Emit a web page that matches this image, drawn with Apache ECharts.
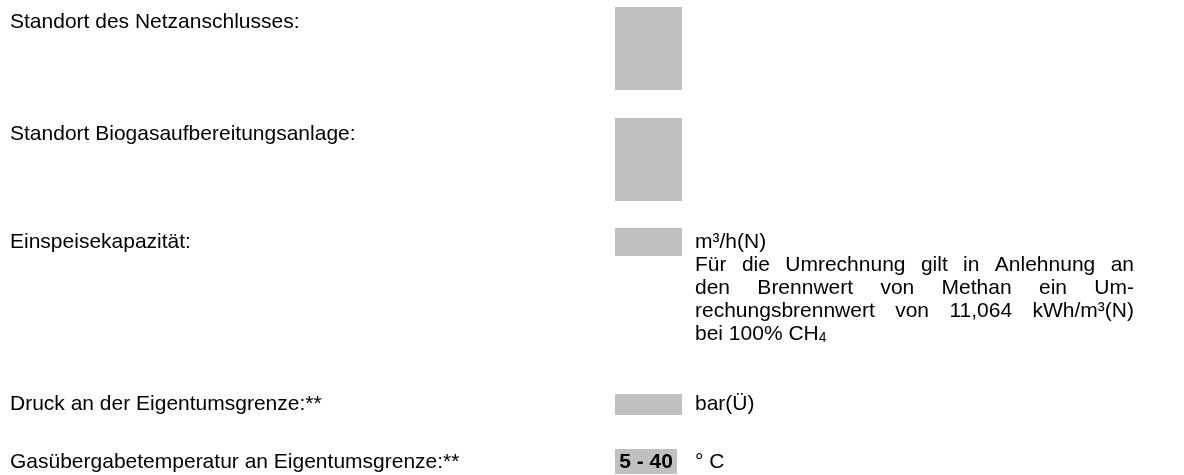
<!DOCTYPE html>
<html>
<head>
<meta charset="utf-8">
<script src="https://cdn.jsdelivr.net/npm/echarts@6/dist/echarts.min.js"></script>
<style>
html,body{margin:0;padding:0;background:#fff;}
#main{width:1184px;height:475px;}
</style>
</head>
<body>
<div id="main"></div>
<script>
// ---- content ----
const labels = [
  'Standort des Netzanschlusses:',
  'Standort Biogasaufbereitungsanlage:',
  'Einspeisekapazität:',
  'Druck an der Eigentumsgrenze:**',
  'Gasübergabetemperatur an Eigentumsgrenze:**'
];
const fieldValues = ['', '', '', '', '5 - 40'];
const units = ['', '', 'm³/h(N)', 'bar(Ü)', '° C'];
const noteLines = [
  'Für die Umrechnung gilt in Anlehnung an',
  'den Brennwert von Methan ein Um-',
  'rechungsbrennwert von 11,064 kWh/m³(N)',
  'bei 100% CH'
];
const noteSubscript = '4';

// ---- layout ----
const FONT_FAMILY = '"Liberation Sans", Arial, sans-serif';
const FS = 21;
const rowY = [22, 134, 242, 404, 462];
const boxes = [
  {x: 615, y: 7, w: 67, h: 83},
  {x: 615, y: 118, w: 67, h: 83},
  {x: 615, y: 228, w: 67, h: 28},
  {x: 615, y: 394, w: 67, h: 21},
  {x: 615, y: 449, w: 62, h: 25}
];
const labelX = 10;
const unitX = 695;
const noteRight = 1134;
const noteY0 = 265, noteStep = 23;

const ctx = document.createElement('canvas').getContext('2d');
function measure(t, size, weight) {
  ctx.font = (weight || 'normal') + ' ' + size + 'px ' + FONT_FAMILY;
  return ctx.measureText(t).width;
}
function txt(x, y, t, opt) {
  opt = opt || {};
  return {
    type: 'text', x: x, y: y, silent: true,
    style: {
      text: t, fill: '#000', fontFamily: FONT_FAMILY,
      fontSize: opt.size || FS, fontWeight: opt.weight || 'normal',
      align: opt.align || 'left', verticalAlign: 'middle'
    }
  };
}

const elements = [];
boxes.forEach(b => elements.push({
  type: 'rect', shape: {x: b.x, y: b.y, width: b.w, height: b.h},
  style: {fill: '#c0c0c0'}, silent: true
}));
labels.forEach((l, i) => elements.push(txt(labelX, rowY[i], l)));
fieldValues.forEach((v, i) => {
  if (v) elements.push(txt(boxes[i].x + boxes[i].w / 2, rowY[i], v, {weight: 'bold', align: 'center'}));
});
units.forEach((u, i) => { if (u) elements.push(txt(unitX, rowY[i], u)); });

// justified note paragraph
noteLines.forEach((line, li) => {
  const y = noteY0 + li * noteStep;
  const words = line.split(' ');
  const last = li === noteLines.length - 1;
  if (last || words.length < 2) {
    elements.push(txt(unitX, y, line));
    if (last) {
      const w = measure(line, FS);
      elements.push(txt(unitX + w, y + 4, noteSubscript, {size: Math.round(FS * 0.65)}));
    }
    return;
  }
  const ww = words.map(w => measure(w, FS));
  const total = ww.reduce((a, b) => a + b, 0);
  const gap = (noteRight - unitX - total) / (words.length - 1);
  let x = unitX;
  words.forEach((w, k) => {
    elements.push(txt(x, y, w));
    x += ww[k] + gap;
  });
});

const chart = echarts.init(document.getElementById('main'), null, {renderer: 'canvas'});
chart.setOption({
  backgroundColor: '#ffffff',
  animation: false,
  graphic: {elements: elements}
});
</script>
</body>
</html>
